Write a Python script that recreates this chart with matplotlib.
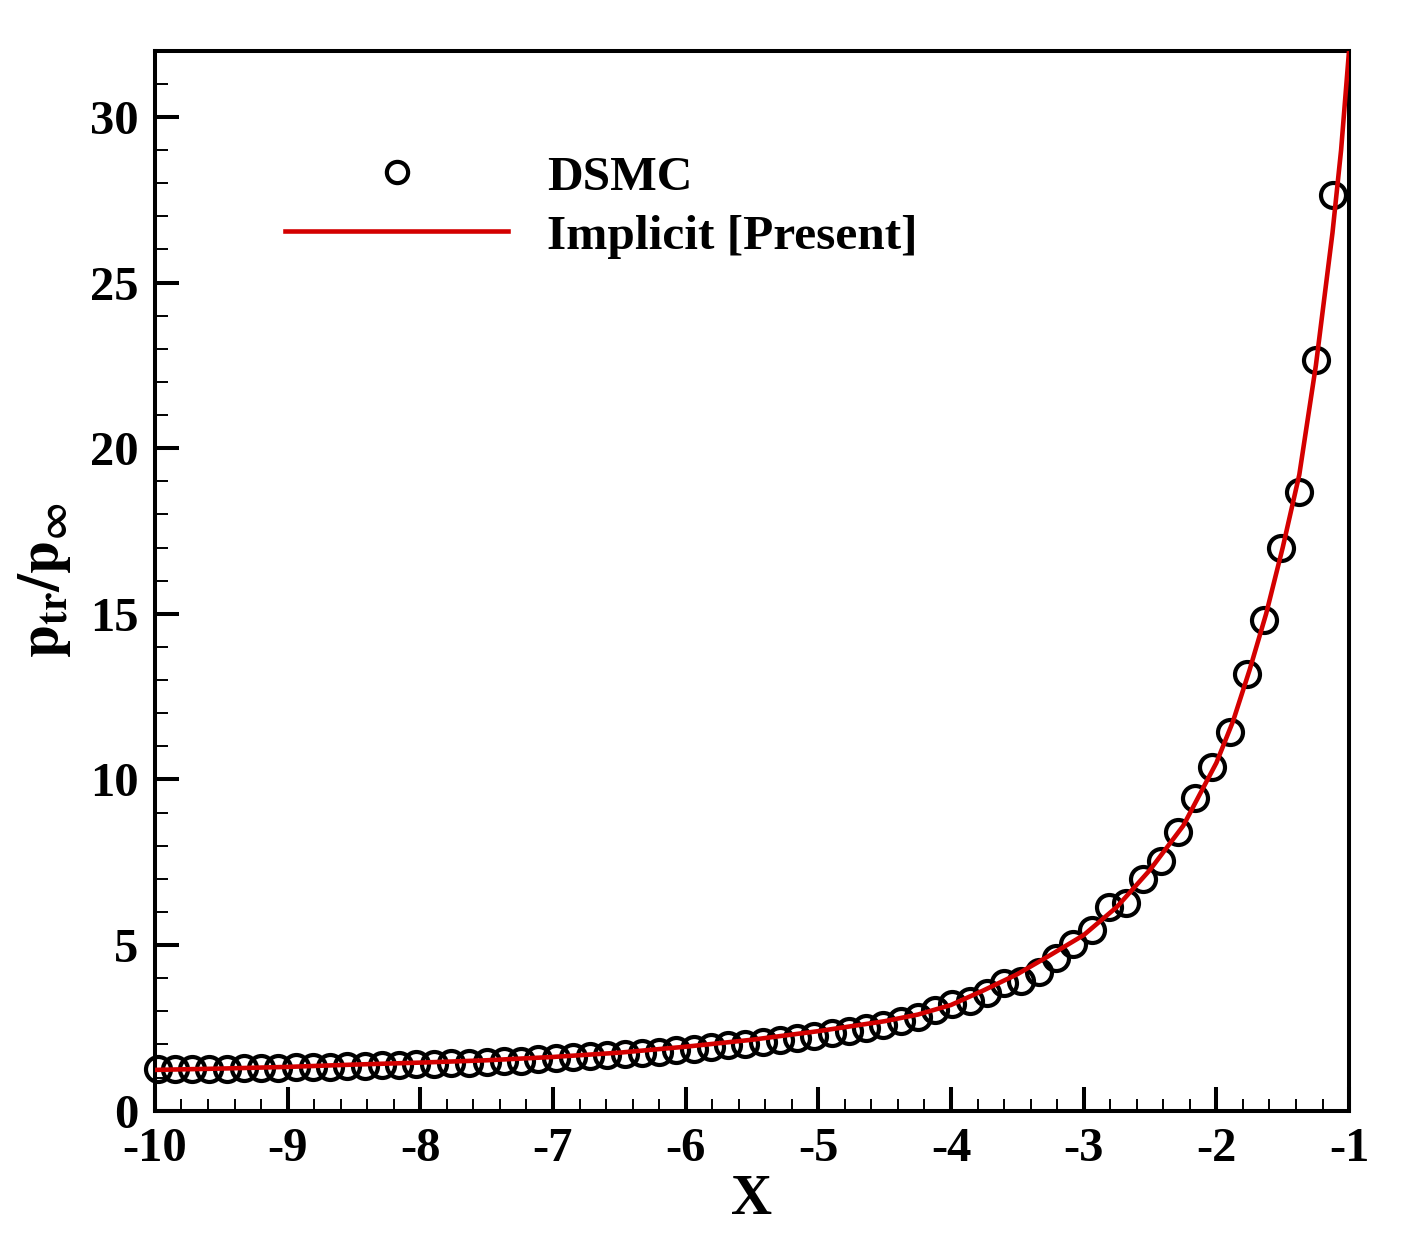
import matplotlib
matplotlib.use("Agg")
import matplotlib.pyplot as plt
from matplotlib.ticker import MultipleLocator

plt.rcParams['font.family'] = ['Liberation Serif', 'DejaVu Serif']
plt.rcParams['font.weight'] = 'bold'
plt.rcParams['mathtext.fontset'] = 'stix'

# DSMC data
dsmc_x = [-9.98, -9.85, -9.72, -9.59, -9.46, -9.33, -9.20, -9.07, -8.94, -8.81,
          -8.68, -8.55, -8.42, -8.29, -8.16, -8.03, -7.90, -7.77, -7.63, -7.50,
          -7.37, -7.24, -7.11, -6.98, -6.85, -6.72, -6.59, -6.46, -6.33, -6.20,
          -6.07, -5.94, -5.81, -5.68, -5.55, -5.42, -5.29, -5.16, -5.03, -4.90,
          -4.77, -4.64, -4.51, -4.38, -4.25, -4.12, -3.99, -3.86, -3.73, -3.60,
          -3.47, -3.34, -3.21, -3.08, -2.94, -2.81, -2.68, -2.55, -2.42, -2.29,
          -2.16, -2.03, -1.90, -1.77, -1.64, -1.51, -1.38, -1.25, -1.12]
dsmc_y = [1.26, 1.25, 1.26, 1.27, 1.27, 1.28, 1.29, 1.30, 1.31, 1.32,
          1.33, 1.35, 1.36, 1.37, 1.39, 1.40, 1.42, 1.44, 1.45, 1.47,
          1.49, 1.51, 1.56, 1.58, 1.61, 1.64, 1.67, 1.70, 1.74, 1.78,
          1.82, 1.86, 1.91, 1.97, 2.01, 2.06, 2.12, 2.18, 2.26, 2.33,
          2.40, 2.48, 2.58, 2.70, 2.83, 3.04, 3.22, 3.31, 3.55, 3.85,
          3.91, 4.18, 4.61, 5.03, 5.45, 6.15, 6.27, 6.99, 7.54, 8.41,
          9.44, 10.37, 11.43, 13.18, 14.81, 16.98, 18.67, 22.66, 27.64]

# Implicit [Present] curve
impl_x = [-10.0, -9.5, -9.0, -8.5, -8.0, -7.5, -7.0, -6.5, -6.0, -5.5,
          -5.0, -4.75, -4.5, -4.25, -4.0, -3.75, -3.5, -3.25, -3.0, -2.75,
          -2.5, -2.25, -2.0, -1.875, -1.75, -1.625, -1.5, -1.375, -1.25,
          -1.125, -1.06, -1.0]
impl_y = [1.23, 1.27, 1.32, 1.39, 1.45, 1.52, 1.62, 1.75, 1.93, 2.14,
          2.40, 2.55, 2.70, 2.90, 3.19, 3.64, 4.12, 4.70, 5.30, 6.15,
          7.27, 8.60, 10.50, 11.75, 13.30, 15.0, 17.0, 19.2, 22.5,
          26.5, 29.0, 32.0]

x_ticks = [-10, -9, -8, -7, -6, -5, -4, -3, -2, -1]
y_ticks = [0, 5, 10, 15, 20, 25, 30]

fig = plt.figure(figsize=(14.06, 12.5), dpi=100)
ax = fig.add_axes([0.1102, 0.1115, 0.8493, 0.8479])

h1, = ax.plot(dsmc_x, dsmc_y, linestyle='none', marker='o', markersize=18,
              markerfacecolor='none', markeredgecolor='black', markeredgewidth=3.0,
              clip_on=False, zorder=2, label='DSMC')
h2, = ax.plot(impl_x, impl_y, color='#d40000', linewidth=3.3, zorder=3,
              label='Implicit [Present]')

ax.set_xlim(-10, -1)
ax.set_ylim(0, 32)
ax.set_xticks(x_ticks)
ax.set_yticks(y_ticks)
ax.set_xticklabels([str(v) for v in x_ticks])
ax.set_yticklabels([str(v) for v in y_ticks])
ax.xaxis.set_minor_locator(MultipleLocator(0.2))
ax.yaxis.set_minor_locator(MultipleLocator(1))

for sp in ax.spines.values():
    sp.set_linewidth(2.9)

ax.tick_params(axis='both', which='major', direction='in', length=17, width=2.9,
               labelsize=35, top=False, right=False)
ax.tick_params(axis='both', which='minor', direction='in', length=9, width=1.4,
               top=False, right=False)
ax.tick_params(axis='x', which='major', pad=12)
ax.tick_params(axis='y', which='major', pad=12)
for lab in ax.get_xticklabels() + ax.get_yticklabels():
    lab.set_fontweight('bold')

ax.set_xlabel('X', fontsize=41, fontweight='bold', labelpad=2)
ax.set_ylabel(r'$\mathbf{p}_{\mathbf{tr}}/\mathbf{p}_{\mathbf{\infty}}$', fontsize=42, labelpad=12)

leg = ax.legend(handles=[h1, h2], loc='upper left', bbox_to_anchor=(0.109, 0.9015),
                frameon=False, handlelength=4.51, handletextpad=0.79,
                labelspacing=0.29, borderpad=0, borderaxespad=0, markerscale=0.85,
                prop={'weight': 'bold', 'size': 35.6})

fig.savefig('out.png', dpi=100)
